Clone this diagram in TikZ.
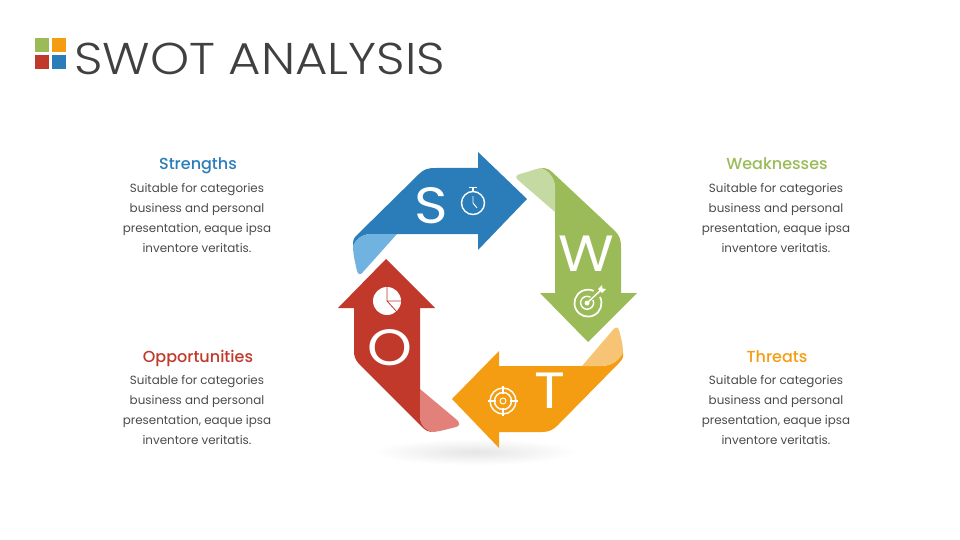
\documentclass[tikz,border=0pt]{standalone}
\usepackage{fontspec}
\setmainfont{Poppins}
\newfontfamily\lightfont[FakeStretch=1.118]{Poppins Light}
\newfontfamily\mediumfont{Poppins Medium}
\newfontfamily\letterfont[FakeStretch=1.12]{Poppins}
\definecolor{swotblue}{HTML}{2A7DB8}
\definecolor{swotgreen}{HTML}{9BBB59}
\definecolor{swotred}{HTML}{C0392B}
\definecolor{swotorange}{HTML}{F49D12}
\definecolor{flapblue}{HTML}{70B3E0}
\definecolor{flapgreen}{HTML}{C4DAA2}
\definecolor{flapred}{HTML}{E2807A}
\definecolor{flaporange}{HTML}{F7C374}
\definecolor{bodygrey}{HTML}{4A4A4A}
\definecolor{titlegrey}{HTML}{404040}
\usetikzlibrary{shadings}
\tikzset{
  headline/.style={anchor=base,font=\mediumfont\fontsize{16}{18}\selectfont},
  bodytext/.style={font=\fontsize{11.9}{20}\selectfont,text=bodygrey,align=center},
  letter/.style={text=white,font=\letterfont\fontsize{51}{51}\selectfont},
  iconline/.style={draw=white,line width=1.4pt},
}
\begin{document}
\begin{tikzpicture}[x=1pt,y=-1pt]
  \useasboundingbox (0,0) rectangle (960,540);
  % logo and title
  \fill[swotgreen] (35,38) rectangle (49,52);
  \fill[swotorange] (52,38) rectangle (66,52);
  \fill[swotred] (35,55) rectangle (49,69);
  \fill[swotblue] (52,55) rectangle (66,69);
  \node[anchor=west,inner sep=0pt,text=titlegrey,font=\lightfont\fontsize{44.5}{50}\selectfont] (title) at (74,59) {SWOT ANALYSIS};
  % shadow
  \shade[inner color=black!10,outer color=white] (475,452) ellipse (102 and 13);
  % blue arrow
  \fill[swotblue] (527,199) -- (478,152) -- (478,168) -- (436,168)
    .. controls (428,168) and (424,169) .. (419,174) -- (356,236)
    .. controls (353,239) and (353,242) .. (353,246)
    .. controls (356,239) and (362,234) .. (372,234) -- (478,234) -- (478,250) -- cycle;
  \fill[flapblue] (397,234) -- (363,272) .. controls (361,275) and (358,275) .. (357,271)
    .. controls (355,262) and (353,254) .. (353,246)
    .. controls (356,239) and (362,234) .. (372,234) -- cycle;
  % green arrow
  \fill[swotgreen] (588,342) -- (637,293) -- (621,293) -- (621,248)
    .. controls (621,240) and (620,236) .. (615,231) -- (552,172)
    .. controls (549,169) and (546,168) .. (541,168)
    .. controls (549,171) and (555,178) .. (555,188) -- (555,293) -- (540,293) -- cycle;
  \fill[flapgreen] (555,212) -- (518,180) .. controls (515,177) and (516,175) .. (520,174)
    .. controls (528,172) and (535,169) .. (541,168)
    .. controls (549,171) and (555,178) .. (555,188) -- cycle;
  % red arrow
  \fill[swotred] (386,259) -- (338,308) -- (354,308) -- (354,350)
    .. controls (354,357) and (355,359) .. (359,364) -- (422,427)
    .. controls (426,431) and (429,432) .. (434,432)
    .. controls (426,431) and (420,425) .. (420,416) -- (420,308) -- (435,308) -- cycle;
  \fill[flapred] (420,389) -- (457,420) .. controls (460,423) and (460,426) .. (456,427)
    .. controls (448,429) and (441,431) .. (434,432)
    .. controls (426,431) and (420,425) .. (420,416) -- cycle;
  % orange arrow
  \fill[swotorange] (452,399) -- (499,351) -- (499,366) -- (600,366)
    .. controls (610,366) and (619,362) .. (623,352)
    .. controls (624,357) and (622,360) .. (619,363) -- (558,425)
    .. controls (553,430) and (549,432) .. (542,432) -- (499,432) -- (499,448) -- cycle;
  \fill[flaporange] (582,366) -- (612,331) .. controls (615,327) and (618,326) .. (619,330)
    .. controls (621,337) and (623,345) .. (623,352)
    .. controls (619,362) and (610,366) .. (600,366) -- cycle;
  % letters
  \node[letter] (letterS) at (431,206) {S};
  \node[letter] (letterW) at (586,254) {W};
  \node[letter] (letterO) at (390,348) {O};
  \node[letter] (letterT) at (550,391) {T};
  % stopwatch
  \draw[iconline] (473,203) circle (11.5);
  \draw[iconline] (473,191) -- (473,188) (469,187.5) -- (477,187.5);
  \draw[iconline,line width=.9pt] (473,196) -- (473,203) -- (477,208);
  % target
  \draw[iconline,line width=1.7pt] (600,297) arc (-27:295:13.5);
  \draw[iconline] (593,300) arc (-25:300:6.5);
  \fill[white] (587,303) circle (2.5);
  \draw[iconline] (587,303) -- (601,290);
  \fill[white] (598,289) -- (602,285) -- (602.5,288.5) -- (606,289) -- (602,293) -- cycle;
  % pie
  \fill[white] (387,301) circle (14);
  \draw[swotred,line width=.8pt] (387,287) -- (387,301) -- (401,301) (387,301) -- (397,312);
  % crosshair
  \draw[iconline] (503,401) circle (13) (503,401) circle (8.5);
  \draw[iconline,line width=.9pt] (503,401) circle (3);
  \draw[iconline] (503,386) -- (503,394) (503,408) -- (503,416) (488,401) -- (496,401) (510,401) -- (518,401);
  % left texts
  \node[headline,text=swotblue] (strengths) at (198,169.5) {Strengths};
  \node[bodytext] (strengthsText) at (197,218) {Suitable for categories\\business and personal\\presentation, eaque ipsa\\inventore veritatis.};
  \node[headline,text=swotred] (opportunities) at (198,362) {Opportunities};
  \node[bodytext] (opportunitiesText) at (197,410.5) {Suitable for categories\\business and personal\\presentation, eaque ipsa\\inventore veritatis.};
  % right texts
  \node[headline,text=swotgreen] (weaknesses) at (777,169.5) {Weaknesses};
  \node[bodytext] (weaknessesText) at (776,218) {Suitable for categories\\business and personal\\presentation, eaque ipsa\\inventore veritatis.};
  \node[headline,text=swotorange] (threats) at (777,362) {Threats};
  \node[bodytext] (threatsText) at (776,410.5) {Suitable for categories\\business and personal\\presentation, eaque ipsa\\inventore veritatis.};
\end{tikzpicture}
\end{document}
